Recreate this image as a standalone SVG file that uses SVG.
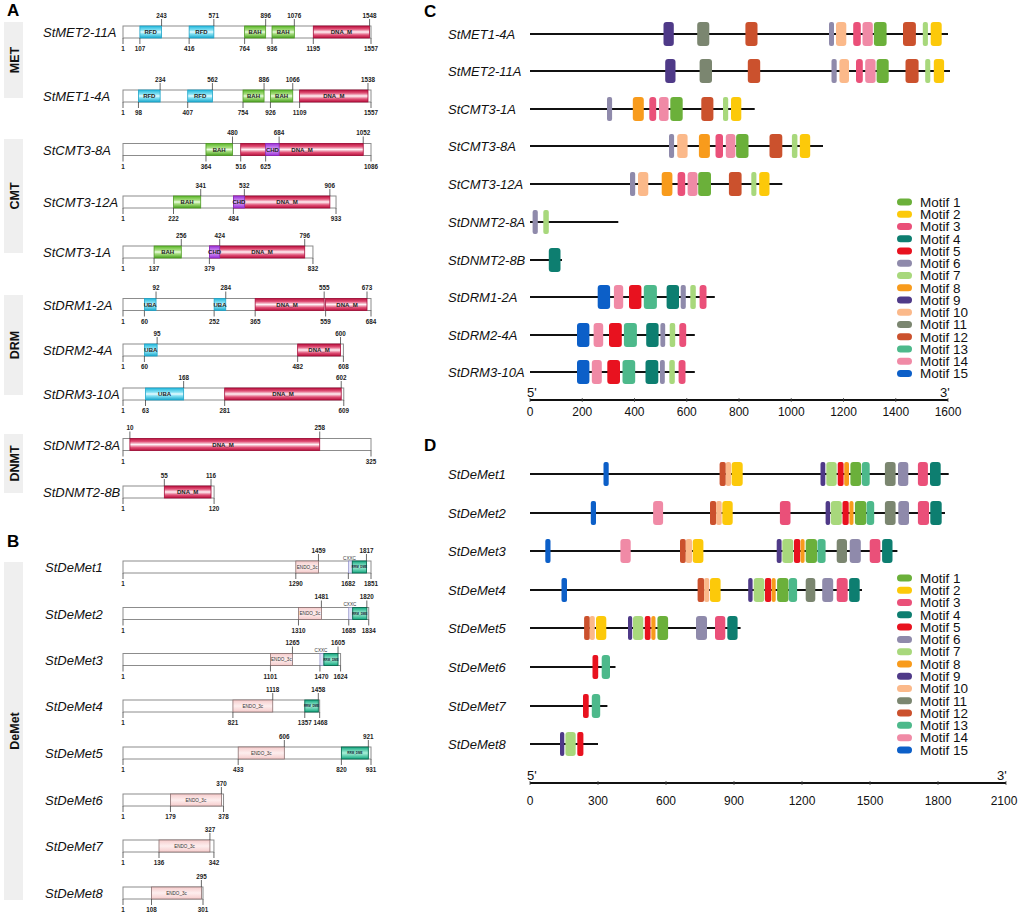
<svg xmlns="http://www.w3.org/2000/svg" width="1020" height="917" viewBox="0 0 1020 917">
<defs>
<linearGradient id="gCy" x1="0" y1="0" x2="0" y2="1"><stop offset="0" stop-color="#22b8dc"/><stop offset="0.35" stop-color="#86e2f4"/><stop offset="0.5" stop-color="#e8fbff"/><stop offset="0.65" stop-color="#86e2f4"/><stop offset="1" stop-color="#1aa8cc"/></linearGradient>
<linearGradient id="gGr" x1="0" y1="0" x2="0" y2="1"><stop offset="0" stop-color="#5cb82a"/><stop offset="0.35" stop-color="#a8de80"/><stop offset="0.5" stop-color="#eafbe0"/><stop offset="0.65" stop-color="#a8de80"/><stop offset="1" stop-color="#4aa020"/></linearGradient>
<linearGradient id="gRd" x1="0" y1="0" x2="0" y2="1"><stop offset="0" stop-color="#b8103c"/><stop offset="0.25" stop-color="#e05076"/><stop offset="0.5" stop-color="#fff2f5"/><stop offset="0.75" stop-color="#e05076"/><stop offset="1" stop-color="#b8103c"/></linearGradient>
<linearGradient id="gPu" x1="0" y1="0" x2="0" y2="1"><stop offset="0" stop-color="#9a30d8"/><stop offset="0.5" stop-color="#dcaaf8"/><stop offset="1" stop-color="#9a30d8"/></linearGradient>
<linearGradient id="gEn" x1="0" y1="0" x2="0" y2="1"><stop offset="0" stop-color="#f6cccc"/><stop offset="0.5" stop-color="#fdeeee"/><stop offset="1" stop-color="#f6cccc"/></linearGradient>
<linearGradient id="gTe" x1="0" y1="0" x2="0" y2="1"><stop offset="0" stop-color="#14a880"/><stop offset="0.5" stop-color="#a8f0d8"/><stop offset="1" stop-color="#14a880"/></linearGradient>
</defs>
<style>
.pl{font:bold 17px "Liberation Sans",Arial,sans-serif;fill:#000}
.gl{font:bold 12.5px "Liberation Sans",Arial,sans-serif;fill:#111;text-anchor:middle}
.gb{fill:#efefef}
.nm{font:italic 13px "Liberation Sans",Arial,sans-serif;fill:#111}
.bar{fill:#fff;stroke:#8c8c8c;stroke-width:1}
.tk{stroke:#444;stroke-width:0.8;fill:none}
.n{font:bold 6.3px "Liberation Sans",Arial,sans-serif;fill:#222;text-anchor:middle}
.dl{font:bold 6px "Liberation Sans",Arial,sans-serif;fill:#222;text-anchor:middle}
.el{font:4.6px "Liberation Sans",Arial,sans-serif;fill:#333;text-anchor:middle}
.xl{font:4.6px "Liberation Sans",Arial,sans-serif;fill:#333;text-anchor:middle}
.tl{font:bold 3px "Liberation Sans",Arial,sans-serif;fill:#123;text-anchor:middle}
.cy{fill:url(#gCy);stroke:#20a4c8;stroke-width:0.8}
.gr{fill:url(#gGr);stroke:#4c9a22;stroke-width:0.8}
.rd{fill:url(#gRd);stroke:#a50e3a;stroke-width:0.8}
.pu{fill:url(#gPu);stroke:#8a2cc0;stroke-width:0.8}
.en{fill:url(#gEn);stroke:#8a7070;stroke-width:0.8}
.te{fill:url(#gTe);stroke:#0a6a50;stroke-width:0.9}
.cx{fill:#e2e2fa;stroke:#8080c0;stroke-width:0.6}
.ln{stroke:#111;stroke-width:2}
.ax{stroke:#111;stroke-width:2}
.at{font:12px "Liberation Sans",Arial,sans-serif;fill:#111;text-anchor:middle}
.pr{font:13px "Liberation Sans",Arial,sans-serif;fill:#111}
.lg{font:13.5px "Liberation Sans",Arial,sans-serif;fill:#111}
.m1{fill:#6bb03a}.m2{fill:#fcc90a}.m3{fill:#ea5079}.m4{fill:#0d7e70}.m5{fill:#e8121f}
.m6{fill:#8f8aab}.m7{fill:#a8d87c}.m8{fill:#f89b1c}.m9{fill:#4f3a88}.m10{fill:#fbb98a}
.m11{fill:#7b8670}.m12{fill:#cb512d}.m13{fill:#4db98b}.m14{fill:#f08aa6}.m15{fill:#0c5fc8}
</style>
<rect width="1020" height="917" fill="#fff"/>

<!-- Panel letters -->
<text class="pl" x="7" y="16">A</text>
<text class="pl" x="7" y="547">B</text>
<text class="pl" x="424" y="17">C</text>
<text class="pl" x="424" y="451">D</text>

<!-- Group labels -->
<g id="groups">
<rect class="gb" x="4" y="22" width="19" height="76"/><text class="gl" transform="translate(18.5,60) rotate(-90)">MET</text>
<rect class="gb" x="4" y="139" width="19" height="114"/><text class="gl" transform="translate(18.5,196) rotate(-90)">CMT</text>
<rect class="gb" x="4" y="295" width="19" height="100"/><text class="gl" transform="translate(18.5,345) rotate(-90)">DRM</text>
<rect class="gb" x="4" y="434" width="19" height="59"/><text class="gl" transform="translate(18.5,463.5) rotate(-90)">DNMT</text>
<rect class="gb" x="4" y="562" width="19" height="338"/><text class="gl" transform="translate(18.5,731) rotate(-90)">DeMet</text>
</g>

<!-- Panel A -->
<g id="a-StMET2-11A">
<text class="nm" x="43" y="37">StMET2-11A</text>
<rect class="bar" x="123" y="26" width="248" height="12"/>
<rect class="cy" x="139.89" y="26" width="21.68" height="12"/><text class="dl" x="150.7" y="34.3">RFD</text>
<rect class="cy" x="189.14" y="26" width="24.71" height="12"/><text class="dl" x="201.5" y="34.3">RFD</text>
<rect class="gr" x="244.61" y="26" width="21.04" height="12"/><text class="dl" x="255.1" y="34.3">BAH</text>
<rect class="gr" x="272.02" y="26" width="22.32" height="12"/><text class="dl" x="283.2" y="34.3">BAH</text>
<rect class="rd" x="313.3" y="26" width="56.27" height="12"/><text class="dl" x="341.4" y="34.3">DNA_M</text>
<path class="tk" d="M123 38v6M139.89 38v6M189.14 38v6M244.61 38v6M272.02 38v6M313.3 38v6M371 38v6M161.57 19v7M213.85 19v7M265.65 19v7M294.34 19v7M369.57 19v7"/>
<text class="n" x="123" y="51">1</text><text class="n" x="139.89" y="51">107</text><text class="n" x="189.14" y="51">416</text><text class="n" x="244.61" y="51">764</text><text class="n" x="272.02" y="51">936</text><text class="n" x="313.3" y="51">1195</text><text class="n" x="371" y="51">1557</text>
<text class="n" x="161.57" y="17.5">243</text><text class="n" x="213.85" y="17.5">571</text><text class="n" x="265.65" y="17.5">896</text><text class="n" x="294.34" y="17.5">1076</text><text class="n" x="369.57" y="17.5">1548</text>
</g>

<g id="a-StMET1-4A">
<text class="nm" x="43" y="101">StMET1-4A</text>
<rect class="bar" x="123" y="90" width="248" height="12"/>
<rect class="cy" x="138.46" y="90" width="21.68" height="12"/><text class="dl" x="149.3" y="98.3">RFD</text>
<rect class="cy" x="187.71" y="90" width="24.7" height="12"/><text class="dl" x="200.1" y="98.3">RFD</text>
<rect class="gr" x="243.02" y="90" width="21.03" height="12"/><text class="dl" x="253.5" y="98.3">BAH</text>
<rect class="gr" x="270.43" y="90" width="22.31" height="12"/><text class="dl" x="281.6" y="98.3">BAH</text>
<rect class="rd" x="299.6" y="90" width="68.37" height="12"/><text class="dl" x="333.8" y="98.3">DNA_M</text>
<path class="tk" d="M123 102v6M138.46 102v6M187.71 102v6M243.02 102v6M270.43 102v6M299.6 102v6M371 102v6M160.14 83v7M212.41 83v7M264.05 83v7M292.74 83v7M367.97 83v7"/>
<text class="n" x="123" y="115">1</text><text class="n" x="138.46" y="115">98</text><text class="n" x="187.71" y="115">407</text><text class="n" x="243.02" y="115">754</text><text class="n" x="270.43" y="115">926</text><text class="n" x="299.6" y="115">1109</text><text class="n" x="371" y="115">1557</text>
<text class="n" x="160.14" y="81.5">234</text><text class="n" x="212.41" y="81.5">562</text><text class="n" x="264.05" y="81.5">886</text><text class="n" x="292.74" y="81.5">1066</text><text class="n" x="367.97" y="81.5">1538</text>
</g>

<g id="a-StCMT3-8A">
<text class="nm" x="43" y="154.5">StCMT3-8A</text>
<rect class="bar" x="123" y="143.5" width="248" height="12"/>
<rect class="gr" x="205.97" y="143.5" width="26.52" height="12"/><text class="dl" x="219.2" y="151.8">BAH</text>
<rect class="rd" x="240.71" y="143.5" width="122.52" height="12"/><text class="dl" x="302" y="151.8">DNA_M</text>
<rect class="pu" x="265.63" y="143.5" width="13.48" height="12"/><text class="dl" x="272.4" y="151.8">CHD</text>
<path class="tk" d="M123 155.5v6M205.97 155.5v6M240.71 155.5v6M265.63 155.5v6M371 155.5v6M232.49 136.5v7M279.11 136.5v7M363.23 136.5v7"/>
<text class="n" x="123" y="168.5">1</text><text class="n" x="205.97" y="168.5">364</text><text class="n" x="240.71" y="168.5">516</text><text class="n" x="265.63" y="168.5">625</text><text class="n" x="371" y="168.5">1086</text>
<text class="n" x="232.49" y="135">480</text><text class="n" x="279.11" y="135">684</text><text class="n" x="363.23" y="135">1052</text>
</g>

<g id="a-StCMT3-12A">
<text class="nm" x="43" y="207">StCMT3-12A</text>
<rect class="bar" x="123" y="196" width="213.03" height="12"/>
<rect class="gr" x="173.51" y="196" width="27.2" height="12"/><text class="dl" x="187.1" y="204.3">BAH</text>
<rect class="rd" x="233.4" y="196" width="96.46" height="12"/><text class="dl" x="287" y="204.3">DNA_M</text>
<rect class="pu" x="233.4" y="196" width="10.97" height="12"/><text class="dl" x="238.9" y="204.3">CHD</text>
<path class="tk" d="M123 208v6M173.51 208v6M233.4 208v6M336.03 208v6M200.71 189v7M244.37 189v7M329.86 189v7"/>
<text class="n" x="123" y="221">1</text><text class="n" x="173.51" y="221">222</text><text class="n" x="233.4" y="221">484</text><text class="n" x="336.03" y="221">933</text>
<text class="n" x="200.71" y="187.5">341</text><text class="n" x="244.37" y="187.5">532</text><text class="n" x="329.86" y="187.5">906</text>
</g>

<g id="a-StCMT3-1A">
<text class="nm" x="43" y="257">StCMT3-1A</text>
<rect class="bar" x="123" y="246" width="189.94" height="12"/>
<rect class="gr" x="154.09" y="246" width="27.2" height="12"/><text class="dl" x="167.7" y="254.3">BAH</text>
<rect class="rd" x="209.4" y="246" width="95.31" height="12"/><text class="dl" x="262" y="254.3">DNA_M</text>
<rect class="pu" x="209.4" y="246" width="10.29" height="12"/><text class="dl" x="214.6" y="254.3">CHD</text>
<path class="tk" d="M123 258v6M154.09 258v6M209.4 258v6M312.94 258v6M181.29 239v7M219.69 239v7M304.71 239v7"/>
<text class="n" x="123" y="271">1</text><text class="n" x="154.09" y="271">137</text><text class="n" x="209.4" y="271">379</text><text class="n" x="312.94" y="271">832</text>
<text class="n" x="181.29" y="237.5">256</text><text class="n" x="219.69" y="237.5">424</text><text class="n" x="304.71" y="237.5">796</text>
</g>

<g id="a-StDRM1-2A">
<text class="nm" x="43" y="309.5">StDRM1-2A</text>
<rect class="bar" x="123" y="298.5" width="248" height="12"/>
<rect class="cy" x="144.42" y="298.5" width="11.62" height="12"/><text class="dl" x="150.2" y="306.8">UBA</text>
<rect class="cy" x="214.14" y="298.5" width="11.62" height="12"/><text class="dl" x="220" y="306.8">UBA</text>
<rect class="rd" x="255.17" y="298.5" width="68.99" height="12"/><text class="dl" x="287" y="306.8">DNA_M</text>
<rect class="rd" x="325.61" y="298.5" width="41.39" height="12"/><text class="dl" x="347" y="306.8">DNA_M</text>
<path class="tk" d="M123 310.5v6M144.42 310.5v6M214.14 310.5v6M255.17 310.5v6M325.61 310.5v6M371 310.5v6M156.04 291.5v7M225.76 291.5v7M324.16 291.5v7M367 291.5v7"/>
<text class="n" x="123" y="323.5">1</text><text class="n" x="144.42" y="323.5">60</text><text class="n" x="214.14" y="323.5">252</text><text class="n" x="255.17" y="323.5">365</text><text class="n" x="325.61" y="323.5">559</text><text class="n" x="371" y="323.5">684</text>
<text class="n" x="156.04" y="290">92</text><text class="n" x="225.76" y="290">284</text><text class="n" x="324.16" y="290">555</text><text class="n" x="367" y="290">673</text>
</g>

<g id="a-StDRM2-4A">
<text class="nm" x="43" y="355">StDRM2-4A</text>
<rect class="bar" x="123" y="344" width="220.4" height="12"/>
<rect class="cy" x="144.42" y="344" width="12.71" height="12"/><text class="dl" x="150.8" y="352.3">UBA</text>
<rect class="rd" x="297.65" y="344" width="42.85" height="12"/><text class="dl" x="319" y="352.3">DNA_M</text>
<path class="tk" d="M123 356v6M144.42 356v6M297.65 356v6M343.4 356v6M157.13 337v7M340.5 337v7"/>
<text class="n" x="123" y="369">1</text><text class="n" x="144.42" y="369">60</text><text class="n" x="297.65" y="369">482</text><text class="n" x="343.4" y="369">608</text>
<text class="n" x="157.13" y="335.5">95</text><text class="n" x="340.5" y="335.5">600</text>
</g>

<g id="a-StDRM3-10A">
<text class="nm" x="43" y="399">StDRM3-10A</text>
<rect class="bar" x="123" y="388" width="220.77" height="12"/>
<rect class="cy" x="145.51" y="388" width="38.13" height="12"/><text class="dl" x="164.6" y="396.3">UBA</text>
<rect class="rd" x="224.67" y="388" width="116.55" height="12"/><text class="dl" x="283" y="396.3">DNA_M</text>
<path class="tk" d="M123 400v6M145.51 400v6M224.67 400v6M343.77 400v6M183.64 381v7M341.22 381v7"/>
<text class="n" x="123" y="413">1</text><text class="n" x="145.51" y="413">63</text><text class="n" x="224.67" y="413">281</text><text class="n" x="343.77" y="413">609</text>
<text class="n" x="183.64" y="379.5">168</text><text class="n" x="341.22" y="379.5">602</text>
</g>

<g id="a-StDNMT2-8A">
<text class="nm" x="43" y="449.5">StDNMT2-8A</text>
<rect class="bar" x="123" y="438.5" width="248" height="12"/>
<rect class="rd" x="129.89" y="438.5" width="189.83" height="12"/><text class="dl" x="223" y="446.8">DNA_M</text>
<path class="tk" d="M123 450.5v6M371 450.5v6M129.89 431.5v7M319.72 431.5v7"/>
<text class="n" x="123" y="463.5">1</text><text class="n" x="371" y="463.5">325</text>
<text class="n" x="129.89" y="430">10</text><text class="n" x="319.72" y="430">258</text>
</g>

<g id="a-StDNMT2-8B">
<text class="nm" x="43" y="497">StDNMT2-8B</text>
<rect class="bar" x="123" y="486" width="91.09" height="12"/>
<rect class="rd" x="164.33" y="486" width="46.69" height="12"/><text class="dl" x="187.7" y="494.3">DNA_M</text>
<path class="tk" d="M123 498v6M214.09 498v6M164.33 479v7M211.02 479v7"/>
<text class="n" x="123" y="511">1</text><text class="n" x="214.09" y="511">120</text>
<text class="n" x="164.33" y="477.5">55</text><text class="n" x="211.02" y="477.5">116</text>
</g>

<!-- Panel B -->
<g id="b-StDeMet1">
<text class="nm" x="45" y="572">StDeMet1</text>
<rect class="bar" x="123" y="561" width="248" height="12"/>
<rect class="en" x="295.8" y="561" width="22.65" height="12"/><text class="el" x="307.1" y="568.6">ENDO_3c</text>
<rect class="cx" x="348.35" y="561" width="3.95" height="12"/>
<rect class="te" x="352.3" y="561" width="14.14" height="12"/><text class="tl" x="359.4" y="568">RRM_DME</text>
<text class="xl" x="349.5" y="559.5">CXXC</text>
<path class="tk" d="M123 573v6M295.8 573v6M348.35 573v6M371 573v6M318.45 554v7M366.44 554v7"/>
<text class="n" x="123" y="586">1</text><text class="n" x="295.8" y="586">1290</text><text class="n" x="348.35" y="586">1682</text><text class="n" x="371" y="586">1851</text>
<text class="n" x="318.45" y="552.5">1459</text><text class="n" x="366.44" y="552.5">1817</text>
</g>

<g id="b-StDeMet2">
<text class="nm" x="45" y="618.5">StDeMet2</text>
<rect class="bar" x="123" y="607.5" width="245.72" height="12"/>
<rect class="en" x="298.48" y="607.5" width="22.92" height="12"/><text class="el" x="309.9" y="615.1">ENDO_3c</text>
<rect class="cx" x="348.75" y="607.5" width="3.95" height="12"/>
<rect class="te" x="352.7" y="607.5" width="14.14" height="12"/><text class="tl" x="359.8" y="614.5">RRM_DME</text>
<text class="xl" x="349.9" y="606">CXXC</text>
<path class="tk" d="M123 619.5v6M298.48 619.5v6M348.75 619.5v6M368.72 619.5v6M321.4 600.5v7M366.84 600.5v7"/>
<text class="n" x="123" y="632.5">1</text><text class="n" x="298.48" y="632.5">1310</text><text class="n" x="348.75" y="632.5">1685</text><text class="n" x="368.72" y="632.5">1834</text>
<text class="n" x="321.4" y="599">1481</text><text class="n" x="366.84" y="599">1820</text>
</g>

<g id="b-StDeMet3">
<text class="nm" x="45" y="664.5">StDeMet3</text>
<rect class="bar" x="123" y="653.5" width="217.57" height="12"/>
<rect class="en" x="270.46" y="653.5" width="21.98" height="12"/><text class="el" x="281.4" y="661.1">ENDO_3c</text>
<rect class="cx" x="319.93" y="653.5" width="3.97" height="12"/>
<rect class="te" x="323.9" y="653.5" width="14.12" height="12"/><text class="tl" x="331" y="660.5">RRM_DME</text>
<text class="xl" x="321" y="652">CXXC</text>
<path class="tk" d="M123 665.5v6M270.46 665.5v6M319.93 665.5v6M340.57 665.5v6M292.44 646.5v7M338.02 646.5v7"/>
<text class="n" x="123" y="678.5">1</text><text class="n" x="270.46" y="678.5">1101</text><text class="n" x="321.5" y="678.5">1470</text><text class="n" x="340.57" y="678.5">1624</text>
<text class="n" x="292.44" y="645">1265</text><text class="n" x="338.02" y="645">1605</text>
</g>

<g id="b-StDeMet4">
<text class="nm" x="45" y="711">StDeMet4</text>
<rect class="bar" x="123" y="700" width="196.66" height="12"/>
<rect class="en" x="232.92" y="700" width="39.82" height="12"/><text class="el" x="252.8" y="707.6">ENDO_3c</text>
<rect class="te" x="304.78" y="700" width="13.54" height="12"/><text class="tl" x="311.5" y="707">RRM_DME</text>
<path class="tk" d="M123 712v6M232.92 712v6M304.78 712v6M319.66 712v6M272.74 693v7M318.32 693v7"/>
<text class="n" x="123" y="725">1</text><text class="n" x="232.92" y="725">821</text><text class="n" x="304.78" y="725">1357</text><text class="n" x="320.5" y="725">1468</text>
<text class="n" x="272.74" y="691.5">1118</text><text class="n" x="318.32" y="691.5">1458</text>
</g>

<g id="b-StDeMet5">
<text class="nm" x="45" y="758">StDeMet5</text>
<rect class="bar" x="123" y="747" width="248" height="12"/>
<rect class="en" x="238.2" y="747" width="46.13" height="12"/><text class="el" x="261.3" y="754.6">ENDO_3c</text>
<rect class="te" x="341.4" y="747" width="26.93" height="12"/><text class="tl" x="354.9" y="754">RRM_DME</text>
<path class="tk" d="M123 759v6M238.2 759v6M341.4 759v6M371 759v6M284.33 740v7M368.33 740v7"/>
<text class="n" x="123" y="772">1</text><text class="n" x="238.2" y="772">433</text><text class="n" x="341.4" y="772">820</text><text class="n" x="371" y="772">931</text>
<text class="n" x="284.33" y="738.5">606</text><text class="n" x="368.33" y="738.5">921</text>
</g>

<g id="b-StDeMet6">
<text class="nm" x="45" y="805">StDeMet6</text>
<rect class="bar" x="123" y="794" width="100.53" height="12"/>
<rect class="en" x="170.47" y="794" width="50.93" height="12"/><text class="el" x="195.9" y="801.6">ENDO_3c</text>
<path class="tk" d="M123 806v6M170.47 806v6M223.53 806v6M221.4 787v7"/>
<text class="n" x="123" y="819">1</text><text class="n" x="170.47" y="819">179</text><text class="n" x="223.53" y="819">378</text>
<text class="n" x="221.4" y="785.5">370</text>
</g>

<g id="b-StDeMet7">
<text class="nm" x="45" y="851">StDeMet7</text>
<rect class="bar" x="123" y="840" width="90.93" height="12"/>
<rect class="en" x="159" y="840" width="50.93" height="12"/><text class="el" x="184.5" y="847.6">ENDO_3c</text>
<path class="tk" d="M123 852v6M159 852v6M213.93 852v6M209.93 833v7"/>
<text class="n" x="123" y="865">1</text><text class="n" x="159" y="865">136</text><text class="n" x="213.93" y="865">342</text>
<text class="n" x="209.93" y="831.5">327</text>
</g>

<g id="b-StDeMet8">
<text class="nm" x="45" y="898">StDeMet8</text>
<rect class="bar" x="123" y="887" width="80" height="12"/>
<rect class="en" x="151.53" y="887" width="49.87" height="12"/><text class="el" x="176.5" y="894.6">ENDO_3c</text>
<path class="tk" d="M123 899v6M151.53 899v6M203 899v6M201.4 880v7"/>
<text class="n" x="123" y="912">1</text><text class="n" x="151.53" y="912">108</text><text class="n" x="203" y="912">301</text>
<text class="n" x="201.4" y="878.5">295</text>
</g>

<!-- Panel C -->
<g id="c-lines">
<path class="ln" d="M530 34H948M530 71H950M530 109H754.7M530 146H823M530 184H782.3M530 222H618.3M530 260H562M530 297H714.8M530 335H694.8M530 372H694.8"/>
</g>
<g id="c-StMET1-4A">
<text class="nm" x="448" y="38.5">StMET1-4A</text>
<rect class="m9" x="663.5" y="22" width="10.3" height="24" rx="3"/><rect class="m11" x="697.2" y="22" width="12.1" height="24" rx="3"/><rect class="m12" x="745.4" y="22" width="12.1" height="24" rx="3"/><rect class="m6" x="829" y="22" width="5" height="24" rx="2"/><rect class="m10" x="836" y="22" width="10.3" height="24" rx="3"/><rect class="m3" x="853.2" y="22" width="7.6" height="24" rx="3"/><rect class="m14" x="862.5" y="22" width="10.3" height="24" rx="3"/><rect class="m1" x="873.9" y="22" width="12.7" height="24" rx="3"/><rect class="m12" x="903" y="22" width="12.9" height="24" rx="3"/><rect class="m7" x="922.8" y="22" width="5.1" height="24" rx="2"/><rect class="m2" x="930.7" y="22" width="11" height="24" rx="3"/>
</g>
<g id="c-StMET2-11A">
<text class="nm" x="448" y="75.5">StMET2-11A</text>
<rect class="m9" x="665.2" y="59" width="10.3" height="24" rx="3"/><rect class="m11" x="699.6" y="59" width="12.4" height="24" rx="3"/><rect class="m12" x="747.8" y="59" width="12.4" height="24" rx="3"/><rect class="m6" x="831.5" y="59" width="5.2" height="24" rx="2"/><rect class="m10" x="839.4" y="59" width="9.6" height="24" rx="3"/><rect class="m3" x="856" y="59" width="6.8" height="24" rx="3"/><rect class="m14" x="865.2" y="59" width="10.4" height="24" rx="3"/><rect class="m1" x="876.6" y="59" width="12.1" height="24" rx="3"/><rect class="m12" x="905.5" y="59" width="13.1" height="24" rx="3"/><rect class="m7" x="925.2" y="59" width="5.1" height="24" rx="2"/><rect class="m2" x="933.8" y="59" width="10.3" height="24" rx="3"/>
</g>
<g id="c-StCMT3-1A">
<text class="nm" x="448" y="113.5">StCMT3-1A</text>
<rect class="m6" x="607" y="97" width="5.1" height="24" rx="2"/><rect class="m8" x="632.8" y="97" width="11" height="24" rx="3"/><rect class="m3" x="649.3" y="97" width="6.9" height="24" rx="3"/><rect class="m14" x="659" y="97" width="9.6" height="24" rx="3"/><rect class="m1" x="670.3" y="97" width="12.4" height="24" rx="3"/><rect class="m12" x="701.3" y="97" width="12.1" height="24" rx="3"/><rect class="m7" x="723" y="97" width="5.2" height="24" rx="2"/><rect class="m2" x="731" y="97" width="10.3" height="24" rx="3"/>
</g>
<g id="c-StCMT3-8A">
<text class="nm" x="448" y="150.5">StCMT3-8A</text>
<rect class="m6" x="669" y="134" width="5.1" height="24" rx="2"/><rect class="m10" x="677.2" y="134" width="10.4" height="24" rx="3"/><rect class="m8" x="698.9" y="134" width="11" height="24" rx="3"/><rect class="m3" x="715.5" y="134" width="7.5" height="24" rx="3"/><rect class="m14" x="725.8" y="134" width="9.6" height="24" rx="3"/><rect class="m1" x="736.1" y="134" width="12.4" height="24" rx="3"/><rect class="m12" x="769.5" y="134" width="12.8" height="24" rx="3"/><rect class="m7" x="791.9" y="134" width="5.5" height="24" rx="2"/><rect class="m2" x="799.8" y="134" width="10.4" height="24" rx="3"/>
</g>
<g id="c-StCMT3-12A">
<text class="nm" x="448" y="188.5">StCMT3-12A</text>
<rect class="m6" x="630" y="172" width="5.2" height="24" rx="2"/><rect class="m10" x="638" y="172" width="10.3" height="24" rx="3"/><rect class="m8" x="661.7" y="172" width="10.7" height="24" rx="3"/><rect class="m3" x="677.6" y="172" width="7.6" height="24" rx="3"/><rect class="m14" x="687.6" y="172" width="9.9" height="24" rx="3"/><rect class="m1" x="698.2" y="172" width="12.8" height="24" rx="3"/><rect class="m12" x="728.9" y="172" width="12.7" height="24" rx="3"/><rect class="m7" x="751.3" y="172" width="5.1" height="24" rx="2"/><rect class="m2" x="759.2" y="172" width="10.3" height="24" rx="3"/>
</g>
<g id="c-StDNMT2-8A">
<text class="nm" x="448" y="226.5">StDNMT2-8A</text>
<rect class="m6" x="532.6" y="210" width="5.2" height="24" rx="2"/><rect class="m7" x="543.3" y="210" width="5.5" height="24" rx="2"/>
</g>
<g id="c-StDNMT2-8B">
<text class="nm" x="448" y="264.5">StDNMT2-8B</text>
<rect class="m4" x="548.8" y="248" width="11.7" height="24" rx="3"/>
</g>
<g id="c-StDRM1-2A">
<text class="nm" x="448" y="301.5">StDRM1-2A</text>
<rect class="m15" x="597.7" y="285" width="12.4" height="24" rx="3"/><rect class="m14" x="613.9" y="285" width="9.3" height="24" rx="3"/><rect class="m5" x="629" y="285" width="12.4" height="24" rx="3"/><rect class="m13" x="643.8" y="285" width="13.1" height="24" rx="3"/><rect class="m4" x="666.6" y="285" width="12.4" height="24" rx="3"/><rect class="m6" x="680.7" y="285" width="5.1" height="24" rx="2"/><rect class="m7" x="690.3" y="285" width="5.5" height="24" rx="2"/><rect class="m3" x="699.6" y="285" width="6.9" height="24" rx="3"/>
</g>
<g id="c-StDRM2-4A">
<text class="nm" x="448" y="339.5">StDRM2-4A</text>
<rect class="m15" x="577" y="323" width="12.4" height="24" rx="3"/><rect class="m14" x="593.6" y="323" width="9.6" height="24" rx="3"/><rect class="m5" x="609" y="323" width="12.8" height="24" rx="3"/><rect class="m13" x="623.9" y="323" width="13" height="24" rx="3"/><rect class="m4" x="646.2" y="323" width="12.4" height="24" rx="3"/><rect class="m6" x="660.4" y="323" width="4.8" height="24" rx="2"/><rect class="m7" x="669.7" y="323" width="5.5" height="24" rx="2"/><rect class="m3" x="679.3" y="323" width="6.9" height="24" rx="3"/>
</g>
<g id="c-StDRM3-10A">
<text class="nm" x="448" y="376.5">StDRM3-10A</text>
<rect class="m15" x="577" y="360" width="12.4" height="24" rx="3"/><rect class="m14" x="591.8" y="360" width="10" height="24" rx="3"/><rect class="m5" x="607.3" y="360" width="12.7" height="24" rx="3"/><rect class="m13" x="622.5" y="360" width="12.7" height="24" rx="3"/><rect class="m4" x="645.5" y="360" width="12.8" height="24" rx="3"/><rect class="m6" x="660" y="360" width="4.8" height="24" rx="2"/><rect class="m7" x="669.3" y="360" width="5.5" height="24" rx="2"/><rect class="m3" x="678.6" y="360" width="6.9" height="24" rx="3"/>
</g>
<g id="c-axis">
<path class="ax" d="M530 400H948"/>
<path class="tk" d="M530 398v4M582.25 398v4M634.5 398v4M686.75 398v4M739 398v4M791.25 398v4M843.5 398v4M895.75 398v4M948 398v4"/>
<text class="pr" x="527" y="397">5'</text><text class="pr" x="940" y="397">3'</text>
<text class="at" x="530" y="416">0</text><text class="at" x="582.25" y="416">200</text><text class="at" x="634.5" y="416">400</text><text class="at" x="686.75" y="416">600</text><text class="at" x="739" y="416">800</text><text class="at" x="791.25" y="416">1000</text><text class="at" x="843.5" y="416">1200</text><text class="at" x="895.75" y="416">1400</text><text class="at" x="948" y="416">1600</text>
</g>
<g id="c-legend">
<rect class="m1" x="897" y="198.5" width="15" height="7" rx="3.5"/><text class="lg" x="920" y="206.8">Motif 1</text>
<rect class="m2" x="897" y="210.75" width="15" height="7" rx="3.5"/><text class="lg" x="920" y="219.05">Motif 2</text>
<rect class="m3" x="897" y="223" width="15" height="7" rx="3.5"/><text class="lg" x="920" y="231.3">Motif 3</text>
<rect class="m4" x="897" y="235.25" width="15" height="7" rx="3.5"/><text class="lg" x="920" y="243.55">Motif 4</text>
<rect class="m5" x="897" y="247.5" width="15" height="7" rx="3.5"/><text class="lg" x="920" y="255.8">Motif 5</text>
<rect class="m6" x="897" y="259.75" width="15" height="7" rx="3.5"/><text class="lg" x="920" y="268.05">Motif 6</text>
<rect class="m7" x="897" y="272" width="15" height="7" rx="3.5"/><text class="lg" x="920" y="280.3">Motif 7</text>
<rect class="m8" x="897" y="284.25" width="15" height="7" rx="3.5"/><text class="lg" x="920" y="292.55">Motif 8</text>
<rect class="m9" x="897" y="296.5" width="15" height="7" rx="3.5"/><text class="lg" x="920" y="304.8">Motif 9</text>
<rect class="m10" x="897" y="308.75" width="15" height="7" rx="3.5"/><text class="lg" x="920" y="317.05">Motif 10</text>
<rect class="m11" x="897" y="321" width="15" height="7" rx="3.5"/><text class="lg" x="920" y="329.3">Motif 11</text>
<rect class="m12" x="897" y="333.25" width="15" height="7" rx="3.5"/><text class="lg" x="920" y="341.55">Motif 12</text>
<rect class="m13" x="897" y="345.5" width="15" height="7" rx="3.5"/><text class="lg" x="920" y="353.8">Motif 13</text>
<rect class="m14" x="897" y="357.75" width="15" height="7" rx="3.5"/><text class="lg" x="920" y="366.05">Motif 14</text>
<rect class="m15" x="897" y="370" width="15" height="7" rx="3.5"/><text class="lg" x="920" y="378.3">Motif 15</text>
</g>

<!-- Panel D -->
<g id="d-lines">
<path class="ln" d="M530 474H948.7M530 513H945M530 551H897.4M530 590H862M530 628H740.6M530 667H615.5M530 706H607.4M530 744H598"/>
</g>
<g id="d-StDeMet1">
<text class="nm" x="448" y="478.5">StDeMet1</text>
<rect class="m15" x="603.5" y="462" width="5.2" height="24" rx="2"/><rect class="m12" x="719.6" y="462" width="6.2" height="24" rx="2"/><rect class="m10" x="725.8" y="462" width="5.2" height="24" rx="2"/><rect class="m2" x="731.6" y="462" width="11.1" height="24" rx="3"/><rect class="m9" x="820.5" y="462" width="4.8" height="24" rx="2"/><rect class="m7" x="826.3" y="462" width="10.4" height="24" rx="3"/><rect class="m5" x="837.7" y="462" width="5.9" height="24" rx="2"/><rect class="m8" x="844.2" y="462" width="4.8" height="24" rx="2"/><rect class="m1" x="850.4" y="462" width="10.7" height="24" rx="3"/><rect class="m13" x="861.8" y="462" width="7.9" height="24" rx="3"/><rect class="m11" x="884.9" y="462" width="10.7" height="24" rx="3"/><rect class="m6" x="898" y="462" width="10.3" height="24" rx="3"/><rect class="m3" x="917.9" y="462" width="10" height="24" rx="3"/><rect class="m4" x="930" y="462" width="10.7" height="24" rx="3"/>
</g>
<g id="d-StDeMet2">
<text class="nm" x="448" y="517.5">StDeMet2</text>
<rect class="m15" x="590.8" y="501" width="5.2" height="24" rx="2"/><rect class="m14" x="653.1" y="501" width="10" height="24" rx="3"/><rect class="m12" x="710" y="501" width="6.1" height="24" rx="2"/><rect class="m10" x="716.1" y="501" width="5.6" height="24" rx="2"/><rect class="m2" x="722.3" y="501" width="10.4" height="24" rx="3"/><rect class="m3" x="779.9" y="501" width="10.6" height="24" rx="3"/><rect class="m9" x="825.6" y="501" width="4.5" height="24" rx="2"/><rect class="m7" x="830.8" y="501" width="11" height="24" rx="3"/><rect class="m5" x="842.5" y="501" width="6.2" height="24" rx="2"/><rect class="m8" x="849.4" y="501" width="4.1" height="24" rx="2"/><rect class="m1" x="854.9" y="501" width="11.4" height="24" rx="3"/><rect class="m13" x="866.6" y="501" width="7.6" height="24" rx="3"/><rect class="m11" x="884.9" y="501" width="10.7" height="24" rx="3"/><rect class="m6" x="898.3" y="501" width="10.7" height="24" rx="3"/><rect class="m3" x="917.9" y="501" width="11.1" height="24" rx="3"/><rect class="m4" x="930.3" y="501" width="11.4" height="24" rx="3"/>
</g>
<g id="d-StDeMet3">
<text class="nm" x="448" y="555.5">StDeMet3</text>
<rect class="m15" x="545.3" y="539" width="5.2" height="24" rx="2"/><rect class="m14" x="620.4" y="539" width="10.3" height="24" rx="3"/><rect class="m12" x="680" y="539" width="5.8" height="24" rx="2"/><rect class="m10" x="685.8" y="539" width="6.2" height="24" rx="2"/><rect class="m2" x="692.7" y="539" width="10.7" height="24" rx="3"/><rect class="m9" x="776.7" y="539" width="4.9" height="24" rx="2"/><rect class="m7" x="782.3" y="539" width="11" height="24" rx="3"/><rect class="m5" x="794" y="539" width="6.2" height="24" rx="2"/><rect class="m8" x="800.5" y="539" width="4.1" height="24" rx="2"/><rect class="m1" x="805.7" y="539" width="11.3" height="24" rx="3"/><rect class="m13" x="817.4" y="539" width="8.2" height="24" rx="3"/><rect class="m11" x="836.7" y="539" width="10.3" height="24" rx="3"/><rect class="m6" x="849.7" y="539" width="11.1" height="24" rx="3"/><rect class="m3" x="869.7" y="539" width="10.7" height="24" rx="3"/><rect class="m4" x="882.1" y="539" width="10.4" height="24" rx="3"/>
</g>
<g id="d-StDeMet4">
<text class="nm" x="448" y="594.5">StDeMet4</text>
<rect class="m15" x="561.5" y="578" width="5.5" height="24" rx="2"/><rect class="m12" x="697.6" y="578" width="6.5" height="24" rx="2"/><rect class="m10" x="704.1" y="578" width="5.2" height="24" rx="2"/><rect class="m2" x="710" y="578" width="10.6" height="24" rx="3"/><rect class="m9" x="748.2" y="578" width="4.4" height="24" rx="2"/><rect class="m7" x="753.7" y="578" width="10.7" height="24" rx="3"/><rect class="m5" x="765" y="578" width="6.2" height="24" rx="2"/><rect class="m8" x="771.6" y="578" width="4.1" height="24" rx="2"/><rect class="m1" x="777.1" y="578" width="11.4" height="24" rx="3"/><rect class="m13" x="788.8" y="578" width="8.3" height="24" rx="3"/><rect class="m11" x="805.7" y="578" width="9.6" height="24" rx="3"/><rect class="m6" x="822.2" y="578" width="11" height="24" rx="3"/><rect class="m3" x="836.7" y="578" width="11" height="24" rx="3"/><rect class="m4" x="849.1" y="578" width="10.6" height="24" rx="3"/>
</g>
<g id="d-StDeMet5">
<text class="nm" x="448" y="632.5">StDeMet5</text>
<rect class="m12" x="584.1" y="616" width="5.7" height="24" rx="2"/><rect class="m10" x="589.8" y="616" width="5" height="24" rx="2"/><rect class="m2" x="596" y="616" width="10.3" height="24" rx="3"/><rect class="m9" x="628" y="616" width="4.2" height="24" rx="2"/><rect class="m7" x="633" y="616" width="10.3" height="24" rx="3"/><rect class="m5" x="644.8" y="616" width="5.7" height="24" rx="2"/><rect class="m8" x="651.3" y="616" width="4.2" height="24" rx="2"/><rect class="m1" x="657.4" y="616" width="10.7" height="24" rx="3"/><rect class="m6" x="696" y="616" width="11" height="24" rx="3"/><rect class="m3" x="715" y="616" width="10.3" height="24" rx="3"/><rect class="m4" x="727.3" y="616" width="10.3" height="24" rx="3"/>
</g>
<g id="d-StDeMet6">
<text class="nm" x="448" y="671.5">StDeMet6</text>
<rect class="m5" x="592.5" y="655" width="5.7" height="24" rx="2"/><rect class="m13" x="601.7" y="655" width="8.3" height="24" rx="3"/>
</g>
<g id="d-StDeMet7">
<text class="nm" x="448" y="710.5">StDeMet7</text>
<rect class="m5" x="583" y="694" width="5.7" height="24" rx="2"/><rect class="m13" x="591.8" y="694" width="8.4" height="24" rx="3"/>
</g>
<g id="d-StDeMet8">
<text class="nm" x="448" y="748.5">StDeMet8</text>
<rect class="m9" x="560" y="732" width="4.3" height="24" rx="2"/><rect class="m7" x="565.4" y="732" width="10.3" height="24" rx="3"/><rect class="m5" x="577.3" y="732" width="6.1" height="24" rx="2"/>
</g>
<g id="d-axis">
<path class="ax" d="M530 783H1006"/>
<path class="tk" d="M530 781v4M598 781v4M666 781v4M734 781v4M802 781v4M870 781v4M938 781v4M1006 781v4"/>
<text class="pr" x="527" y="780">5'</text><text class="pr" x="997" y="780">3'</text>
<text class="at" x="530" y="805">0</text><text class="at" x="598" y="805">300</text><text class="at" x="666" y="805">600</text><text class="at" x="734" y="805">900</text><text class="at" x="802" y="805">1200</text><text class="at" x="870" y="805">1500</text><text class="at" x="938" y="805">1800</text><text class="at" x="1004" y="805">2100</text>
</g>
<g id="d-legend">
<rect class="m1" x="897" y="574.5" width="15" height="7" rx="3.5"/><text class="lg" x="920" y="582.8">Motif 1</text>
<rect class="m2" x="897" y="586.78" width="15" height="7" rx="3.5"/><text class="lg" x="920" y="595.08">Motif 2</text>
<rect class="m3" x="897" y="599.06" width="15" height="7" rx="3.5"/><text class="lg" x="920" y="607.36">Motif 3</text>
<rect class="m4" x="897" y="611.34" width="15" height="7" rx="3.5"/><text class="lg" x="920" y="619.64">Motif 4</text>
<rect class="m5" x="897" y="623.62" width="15" height="7" rx="3.5"/><text class="lg" x="920" y="631.92">Motif 5</text>
<rect class="m6" x="897" y="635.9" width="15" height="7" rx="3.5"/><text class="lg" x="920" y="644.2">Motif 6</text>
<rect class="m7" x="897" y="648.18" width="15" height="7" rx="3.5"/><text class="lg" x="920" y="656.48">Motif 7</text>
<rect class="m8" x="897" y="660.46" width="15" height="7" rx="3.5"/><text class="lg" x="920" y="668.76">Motif 8</text>
<rect class="m9" x="897" y="672.74" width="15" height="7" rx="3.5"/><text class="lg" x="920" y="681.04">Motif 9</text>
<rect class="m10" x="897" y="685.02" width="15" height="7" rx="3.5"/><text class="lg" x="920" y="693.32">Motif 10</text>
<rect class="m11" x="897" y="697.3" width="15" height="7" rx="3.5"/><text class="lg" x="920" y="705.6">Motif 11</text>
<rect class="m12" x="897" y="709.58" width="15" height="7" rx="3.5"/><text class="lg" x="920" y="717.88">Motif 12</text>
<rect class="m13" x="897" y="721.86" width="15" height="7" rx="3.5"/><text class="lg" x="920" y="730.16">Motif 13</text>
<rect class="m14" x="897" y="734.14" width="15" height="7" rx="3.5"/><text class="lg" x="920" y="742.44">Motif 14</text>
<rect class="m15" x="897" y="746.42" width="15" height="7" rx="3.5"/><text class="lg" x="920" y="754.72">Motif 15</text>
</g>
</svg>
